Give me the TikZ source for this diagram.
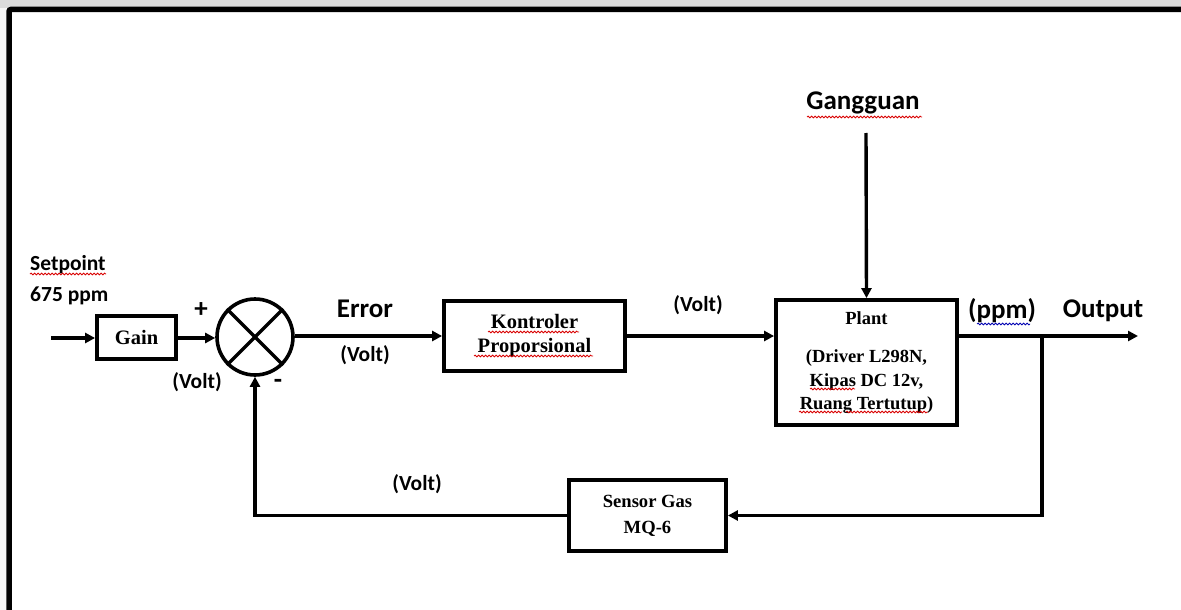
\documentclass[tikz,border=0pt]{standalone}
\usepackage{fontspec}
\setmainfont{Liberation Serif}
\newfontfamily\calfont{Carlito}
\usetikzlibrary{arrows.meta,decorations.pathmorphing}
\tikzset{
  blk/.style={draw=black,line width=3.8pt,rectangle,inner sep=0pt,align=center,
    font=\bfseries\fontsize{20.5}{24}\selectfont},
  lbl/.style={inner sep=0pt,font=\calfont\bfseries\fontsize{21.5}{24}\selectfont},
  biglbl/.style={inner sep=0pt,font=\calfont\bfseries\fontsize{27}{30}\selectfont},
  arr/.style={line width=3.4pt,-{Triangle[length=10pt,width=10pt]}},
  squig/.style={draw=red!85!black,line width=0.8pt,decorate,
    decoration={snake,segment length=3.5pt,amplitude=0.9pt}},
  squigb/.style={squig,draw=blue!70!black},
}
\begin{document}
\begin{tikzpicture}[x=1pt,y=-1pt]
\useasboundingbox (0,0) rectangle (1181,610);
\fill[white] (0,0) rectangle (1181,610);
\fill[gray!28] (0,0) rectangle (1181,8);
\fill[gray!8] (0,8) rectangle (6,610);
\draw[line width=5.5pt,rounded corners=2pt] (9,615) -- (9,9.5) -- (1190,9.5);

% labels
\node[lbl,anchor=west] (sp) at (30,265) {Setpoint};
\node[lbl,anchor=west] (sv) at (30,296) {675 ppm};
\draw[squig] (30,274) -- (106,274);

% blocks
\node[blk,minimum width=79pt,minimum height=43pt] (gain) at (136.5,337.5) {Gain};
\node[draw=black,line width=3.6pt,circle,minimum size=76pt,inner sep=0pt] (sum) at (255,337) {};
\draw[line width=3.4pt] (sum.north west) -- (sum.south east);
\draw[line width=3.4pt] (sum.north east) -- (sum.south west);
\node[blk,minimum width=181pt,minimum height=70pt] (kon) at (534.5,336) {Kontroler\\Proporsional};
\node[blk,minimum width=181pt,minimum height=125pt,
  font=\bfseries\fontsize{18.5}{23.5}\selectfont] (plant) at (866.5,362.5)
  {Plant\\[15pt](Driver L298N,\\Kipas DC 12v,\\Ruang Tertutup)};
\node[blk,minimum width=157pt,minimum height=71pt,
  font=\bfseries\fontsize{18.6}{26}\selectfont] (sens) at (647.5,515.5) {Sensor Gas\\MQ-6};

% text labels
\node[biglbl] (plus) at (201,310) {+};
\node[biglbl] (minus) at (278,384) {-};
\node[lbl] (v1) at (197,382) {(Volt)};
\node[biglbl] (err) at (365,309) {Error};
\node[lbl] (v2) at (365,355) {(Volt)};
\node[lbl] (v3) at (698,305) {(Volt)};
\node[biglbl] (gg) at (863,103) {Gangguan};
\node[biglbl] (ppm) at (1002,311) {(ppm)};
\node[biglbl] (outl) at (1103,311) {Output};
\node[lbl] (v4) at (417,484) {(Volt)};

% squiggles
\draw[squig] (807,117) -- (922,117);
\draw[squig] (488,332) -- (579,332);
\draw[squig] (474,356) -- (593,356);
\draw[squig] (810,389) -- (855,389);
\draw[squig] (799,412) -- (842,412);
\draw[squig] (846,412) -- (928,412);
\draw[squigb] (977,324) -- (1030,324);

% coordinates
\coordinate (in) at (51,338);
\coordinate (dist) at (866,133);
\coordinate (out) at (1138,336);
\coordinate (br) at (1042,336);
\coordinate (fb) at (255,515.5);

% connectors
\draw[arr] (in) -- (gain.west |- in);
\draw[arr] (gain.east |- in) -- (sum.west |- in);
\draw[arr] (sum.east |- kon) -- (kon.west);
\draw[arr] (kon.east) -- (kon.east -| plant.west);
\draw[arr] (dist) -- (plant.north);
\draw[arr] (kon.east -| plant.east) -- (out);
\draw[arr] (br) -- (br |- sens.east) -- (sens.east);
\draw[arr] (sens.west) -- (fb) -- (sum.south);
\end{tikzpicture}
\end{document}
